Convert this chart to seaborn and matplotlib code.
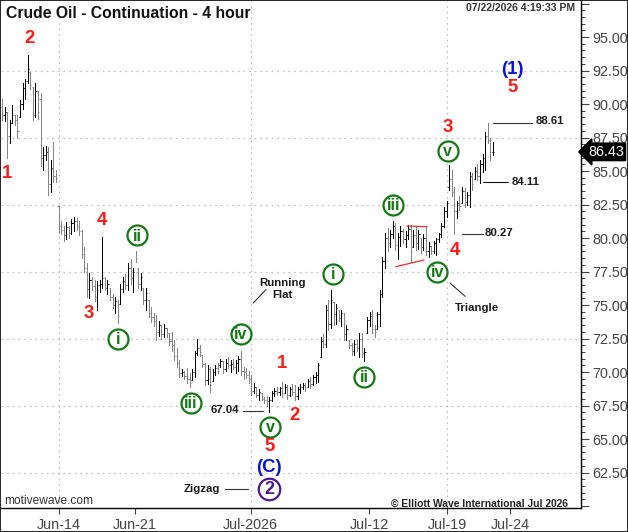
import numpy as np
import pandas as pd
import matplotlib
matplotlib.use("Agg")
import matplotlib.pyplot as plt
from matplotlib.ticker import FixedLocator, MultipleLocator, FuncFormatter
from matplotlib.transforms import blended_transform_factory
from matplotlib.patches import Rectangle
import seaborn as sns

# 4 hour bars
bar_open = [
    89.8, 89.2, 89.4, 87.6, 88.6, 89.2, 88.8, 89.0, 90.0, 91.2,
    91.7, 92.4, 91.3, 89.2, 90.8, 90.4, 86.0, 86.2, 86.4, 84.0,
    85.2, 84.6, 82.4, 80.9, 80.6, 80.2, 80.8, 80.4, 81.1, 81.3,
    80.9, 80.5, 78.8, 77.8, 76.2, 76.9, 76.4, 75.6, 76.5, 76.6,
    77.0, 76.3, 76.3, 75.6, 75.0, 75.3, 75.1, 76.2, 76.8, 76.5,
    77.8, 77.0, 78.6, 77.8, 76.6, 76.3, 75.4, 75.4, 74.4, 74.1,
    73.8, 73.0, 73.5, 72.8, 73.3, 72.9, 72.3, 72.0, 71.2, 70.7,
    69.9, 70.0, 69.7, 69.5, 69.4, 70.0, 71.4, 71.8, 71.3, 70.6,
    69.4, 70.2, 69.3, 70.0, 70.3, 70.5, 70.8, 70.2, 70.7, 70.5,
    70.6, 70.4, 70.7, 71.0, 70.1, 70.0, 69.8, 69.5, 68.6, 68.9,
    68.3, 68.4, 68.0, 67.9, 67.8, 67.9, 68.4, 68.6, 68.5, 68.8,
    68.4, 68.9, 68.3, 68.7, 68.5, 68.2, 68.7, 68.9, 69.0, 68.9,
    69.3, 69.1, 69.6, 69.8, 71.1, 72.3, 72.1, 74.6, 73.6, 75.2,
    74.3, 74.6, 74.0, 74.4, 72.8, 72.4, 72.0, 71.6, 72.1, 71.8,
    72.5, 71.4, 72.9, 73.9, 74.2, 73.2, 73.2, 74.3, 75.8, 78.3,
    80.0, 79.6, 80.3, 80.9, 79.5, 80.1, 80.5, 79.9, 80.2, 80.7,
    79.3, 80.2, 79.6, 80.0, 79.3, 80.0, 79.0, 79.4, 79.0, 79.6,
    79.9, 80.3, 80.9, 82.0, 83.8, 84.4, 83.4, 82.0, 82.6, 82.6,
    83.5, 82.7, 83.2, 84.6, 84.4, 85.0, 84.6, 85.5, 86.0, 87.6,
    87.3, 86.4,
]
bar_high = [
    90.4, 89.8, 89.4, 88.8, 89.9, 89.2, 89.2, 90.3, 91.6, 91.9,
    93.65, 92.4, 91.3, 91.6, 91.0, 90.8, 86.8, 86.9, 86.8, 85.8,
    87.2, 85.1, 82.4, 81.3, 80.9, 81.2, 80.9, 81.4, 81.6, 81.5,
    81.3, 80.6, 79.3, 78.1, 77.4, 77.1, 76.9, 76.8, 76.9, 80.1,
    77.1, 76.9, 76.3, 75.8, 75.6, 75.4, 76.6, 77.1, 77.3, 78.1,
    78.4, 77.8, 79.0, 77.8, 77.4, 76.3, 76.3, 75.4, 74.85, 74.4,
    74.25, 73.8, 73.5, 73.6, 73.3, 72.9, 73.0, 72.4, 71.8, 70.9,
    70.2, 70.1, 70.3, 69.9, 70.2, 71.6, 72.5, 72.0, 71.3, 70.7,
    70.5, 70.4, 70.2, 70.5, 70.7, 71.0, 70.8, 71.0, 71.1, 70.9,
    71.0, 70.9, 71.2, 71.6, 70.4, 70.3, 70.1, 69.8, 69.2, 68.9,
    68.7, 68.4, 68.1, 68.2, 68.1, 68.6, 68.8, 68.9, 68.9, 69.25,
    69.1, 69.0, 68.9, 69.1, 69.0, 68.9, 69.1, 69.2, 69.2, 69.5,
    69.6, 69.8, 70.0, 70.7, 72.6, 72.8, 75.0, 75.4, 76.1, 75.2,
    75.1, 74.6, 74.6, 74.4, 73.5, 72.4, 72.2, 72.4, 72.4, 72.9,
    72.9, 71.8, 74.1, 74.5, 74.6, 73.5, 74.5, 76.1, 78.6, 80.4,
    80.75, 80.6, 81.3, 81.1, 80.4, 80.9, 80.7, 80.5, 81.0, 81.0,
    80.6, 80.9, 80.6, 80.0, 80.3, 80.8, 79.7, 79.4, 79.8, 80.0,
    80.4, 81.1, 82.3, 82.8, 85.45, 85.1, 83.8, 82.8, 83.1, 83.8,
    83.7, 83.4, 84.9, 84.85, 85.3, 85.5, 85.8, 86.3, 87.9, 88.61,
    87.5, 87.2,
]
bar_low = [
    88.8, 88.7, 86.0, 87.1, 88.6, 88.4, 87.5, 89.0, 89.6, 90.4,
    91.6, 91.1, 88.8, 89.0, 88.9, 85.4, 85.1, 85.8, 83.2, 83.4,
    84.2, 84.2, 80.4, 80.3, 79.8, 79.9, 80.0, 80.3, 80.5, 80.6,
    80.2, 78.5, 77.5, 75.6, 75.5, 76.1, 75.3, 74.6, 76.0, 76.3,
    76.1, 75.8, 75.4, 74.8, 74.4, 73.65, 75.1, 76.0, 76.2, 76.1,
    76.6, 76.0, 78.2, 76.3, 76.1, 75.1, 74.6, 74.1, 73.7, 73.4,
    72.4, 72.7, 72.5, 72.6, 72.6, 72.0, 71.6, 70.9, 70.4, 69.6,
    69.7, 69.5, 69.2, 68.9, 69.4, 69.6, 71.3, 71.2, 70.4, 69.0,
    69.1, 68.5, 69.3, 69.8, 69.9, 70.4, 69.9, 70.1, 70.3, 70.0,
    70.2, 69.9, 70.1, 69.8, 69.5, 69.55, 69.2, 68.3, 68.4, 68.1,
    67.9, 67.9, 67.7, 67.5, 67.04, 67.8, 68.2, 68.3, 68.3, 68.1,
    68.4, 68.0, 68.2, 68.3, 67.9, 68.0, 68.4, 68.7, 68.6, 68.9,
    68.8, 69.0, 69.2, 69.25, 71.1, 71.9, 71.9, 73.1, 73.3, 73.5,
    73.6, 73.8, 73.4, 72.4, 72.4, 71.8, 71.3, 71.3, 71.6, 71.1,
    71.1, 70.85, 72.9, 73.4, 72.9, 72.6, 73.2, 73.4, 75.6, 77.8,
    79.0, 79.3, 80.0, 79.1, 78.4, 79.4, 79.6, 79.3, 79.9, 78.2,
    79.3, 79.1, 79.2, 78.9, 79.1, 78.7, 78.6, 78.8, 78.9, 78.7,
    79.7, 80.1, 80.8, 81.6, 83.6, 83.1, 80.27, 81.5, 82.1, 82.6,
    82.3, 82.5, 82.3, 83.6, 84.4, 84.3, 84.11, 84.9, 85.1, 87.1,
    85.8, 86.2,
]
bar_close = [
    89.2, 89.4, 87.6, 88.6, 89.2, 88.8, 88.0, 90.0, 91.2, 91.7,
    92.6, 91.4, 89.2, 91.0, 89.4, 86.0, 86.2, 86.4, 84.0, 85.2,
    84.6, 84.5, 80.9, 80.6, 80.2, 80.8, 80.4, 81.1, 81.3, 80.9,
    80.5, 78.8, 77.8, 76.2, 76.9, 76.4, 75.6, 76.5, 76.6, 77.0,
    76.3, 76.6, 75.6, 75.0, 75.3, 74.2, 76.2, 76.8, 76.5, 77.8,
    77.0, 77.5, 78.4, 76.6, 77.1, 75.4, 75.9, 74.4, 74.1, 73.8,
    73.0, 73.5, 72.8, 73.3, 72.9, 72.3, 72.0, 71.2, 70.7, 69.9,
    70.0, 69.7, 69.5, 69.2, 70.0, 71.4, 71.8, 71.5, 70.6, 69.4,
    70.2, 69.0, 70.0, 70.3, 70.1, 70.8, 70.2, 70.7, 70.5, 70.6,
    70.4, 70.7, 71.0, 70.1, 70.0, 69.8, 69.5, 68.6, 68.9, 68.3,
    68.5, 68.0, 67.9, 67.8, 67.9, 68.4, 68.6, 68.5, 68.8, 68.4,
    68.9, 68.3, 68.7, 68.5, 68.2, 68.7, 68.9, 69.0, 68.8, 69.3,
    69.1, 69.6, 69.8, 70.5, 72.3, 72.1, 74.6, 73.6, 75.4, 74.3,
    74.8, 74.0, 74.4, 72.8, 73.2, 72.0, 71.6, 72.1, 71.8, 72.5,
    71.4, 71.5, 73.9, 74.2, 73.2, 73.0, 74.3, 75.8, 78.3, 80.0,
    79.6, 80.3, 80.9, 79.5, 80.1, 80.5, 79.9, 80.2, 80.7, 79.0,
    80.2, 79.6, 80.3, 79.3, 80.0, 79.0, 79.4, 79.0, 79.6, 79.9,
    80.3, 80.9, 82.0, 82.6, 84.4, 83.4, 82.0, 82.6, 82.4, 83.5,
    82.7, 83.2, 84.6, 84.0, 85.0, 84.6, 85.5, 86.0, 87.6, 87.3,
    86.4, 86.43,
]

# date labels sit at bar positions (weekends are skipped)
date_ticks = [22.1, 51.6, 96.8, 142.8, 173.3, 197.7]
date_labels = ["Jun-14", "Jun-21", "Jul-2026", "Jul-12", "Jul-19", "Jul-24"]
last_price = 86.43

sns.set_theme(style="white")
plt.rcParams['font.family'] = ['Liberation Sans', 'DejaVu Sans']

df = pd.DataFrame({"open": bar_open, "high": bar_high,
                   "low": bar_low, "close": bar_close})
df["idx"] = np.arange(len(df))
bar_cols = np.where(df["close"] >= df["open"], "#000000", "#858585")

fig = plt.figure(figsize=(6.28, 5.32), dpi=100)
ax = fig.add_axes([0.0016, 0.0451, 0.9236, 0.9530])

# dotted grid
for yv in [62.5, 67.5, 72.5, 77.5, 82.5, 87.5, 92.5]:
    ax.axhline(yv, color="#c4c4c4", lw=0.9, ls=(0, (1.5, 3)), zorder=0)
for xv in [date_ticks[0], date_ticks[2], date_ticks[4]]:
    ax.axvline(xv, color="#c4c4c4", lw=0.9, ls=(0, (1.5, 3)), zorder=0)

# OHLC bars
ax.vlines(df["idx"], df["low"], df["high"], colors=bar_cols, lw=0.72,
          antialiased=False)
ax.hlines(df["open"], df["idx"] - 0.45, df["idx"], colors=bar_cols, lw=0.72)
ax.hlines(df["close"], df["idx"], df["idx"] + 0.45, colors=bar_cols, lw=0.72)

ax.set_xlim(-0.4, 225.3)
ax.set_ylim(59.85, 97.69)

# axes styling
for s in ["left", "top"]:
    ax.spines[s].set_visible(False)
for s in ["right", "bottom"]:
    ax.spines[s].set_color("black")
    ax.spines[s].set_linewidth(1.0)
ax.yaxis.tick_right()
ax.yaxis.set_major_locator(FixedLocator(np.arange(60, 97.6, 2.5)))
ax.yaxis.set_minor_locator(MultipleLocator(0.5))
ax.yaxis.set_major_formatter(FuncFormatter(
    lambda v, p: f"{v:.2f}" if 62 < v < 96 else ""))
ax.tick_params(axis="y", which="major", direction="out", length=6, width=0.8,
               color="#444444", labelsize=10.4, labelcolor="#444444", pad=2,
               right=True, left=False)
ax.tick_params(axis="y", which="minor", direction="out", length=3, width=0.7,
               color="#444444", right=True, left=False)
ax.set_xticks(date_ticks)
ax.set_xticklabels(date_labels)
ax.tick_params(axis="x", direction="out", length=4, width=0.8, color="#444444",
               labelsize=10.4, labelcolor="#444444", pad=3, bottom=True)
ax.grid(False)

# current price badge
tr = blended_transform_factory(ax.transAxes, ax.transData)
ax.text(1.012, last_price, f"{last_price:.2f}", transform=tr, ha="left",
        va="center", color="white", fontsize=10.4, clip_on=False,
        bbox=dict(boxstyle="larrow,pad=0.12", fc="black", ec="black"))

# wave labels
RED, BLUE, GREEN, PURPLE = "#ff1a1a", "#0a14e0", "#147814", "#4b1a8c"


def big(txt, x, y, color):
    ax.text(x, y, txt, color=color, fontsize=13.4, weight="bold",
            ha="center", va="center")


def circled(txt, x, y, color=GREEN, size=14.4, fs=11.5):
    ax.plot([x], [y], marker="o", ms=size, mfc="white", mec=color, mew=1.6)
    ax.text(x, y - 0.05, txt, color=color, fontsize=fs, weight="bold",
            ha="center", va="center")


def note(txt, x, y, ha="center"):
    ax.text(x, y, txt, color="#1a1a1a", fontsize=8.2, weight="bold",
            ha=ha, va="center", linespacing=1.25)


big("2", 10.6, 94.9, RED)
big("1", 2.1, 84.83, RED)
big("4", 38.8, 81.34, RED)
big("3", 33.6, 74.38, RED)
big("1", 108.8, 70.65, RED)
big("2", 114.0, 66.79, RED)
big("5", 104.0, 64.42, RED)
big("(C)", 104.0, 62.86, BLUE)
big("3", 173.4, 88.23, RED)
big("4", 176.3, 79.05, RED)
big("(1)", 198.7, 92.59, BLUE)
big("5", 198.7, 91.22, RED)

circled("i", 45.3, 72.46)
circled("ii", 52.7, 80.2)
circled("iii", 73.5, 67.71)
circled("iv", 92.9, 72.84)
circled("v", 104.3, 65.92)
circled("i", 128.7, 77.31)
circled("ii", 141.0, 69.65)
circled("iii", 152.3, 82.46)
circled("iv", 169.4, 77.49)
circled("v", 173.4, 86.49)
circled("2", 104.0, 61.25, color=PURPLE, size=15.5, fs=13)

# triangle boundaries
ax.plot([157.5, 165.5], [80.9, 80.84], color="#e83030", lw=0.9)
ax.plot([153.2, 164.2], [77.86, 78.36], color="#e83030", lw=0.9)

# notes with leader lines
note("Running\nFlat", 109.2, 76.23)
ax.plot([97.8, 102.7], [75.16, 76.15], color="#333333", lw=0.8)
note("67.04", 86.9, 67.16)
ax.plot([93.7, 101.4], [67.11, 67.11], color="#333333", lw=0.8)
note("Zigzag", 77.9, 61.25)
ax.plot([86.8, 95.8], [61.28, 61.28], color="#333333", lw=0.8)
note("Triangle", 184.7, 74.8)
ax.plot([174.3, 180.2], [76.64, 75.65], color="#333333", lw=0.8)
note("80.27", 193.5, 80.35)
ax.plot([179.1, 187.0], [80.3, 80.3], color="#333333", lw=0.8)
note("84.11", 203.9, 84.18)
ax.plot([187.3, 197.0], [84.18, 84.18], color="#111111", lw=0.8)
note("88.61", 213.2, 88.71)
ax.plot([190.9, 206.3], [88.61, 88.61], color="#333333", lw=0.8)

# header / footer text
fig.text(6 / 628, 1 - 14 / 532, "Crude Oil - Continuation - 4 hour",
         fontsize=11.3, weight="bold", ha="left", va="center", color="#111111")
fig.text(575 / 628, 1 - 8 / 532, "07/22/2026 4:19:33 PM", fontsize=7.5,
         weight="bold", ha="right", va="center", color="#333333")
fig.text(4 / 628, 1 - 501 / 532, "motivewave.com", fontsize=8.6,
         ha="left", va="center", color="#333333")
fig.text(568 / 628, 1 - 504 / 532, "\u00a9 Elliott Wave International Jul 2026",
         fontsize=7.4, weight="bold", ha="right", va="center", color="#222222")

fig.patches.append(Rectangle((0, 0), 1, 1, transform=fig.transFigure,
                             fill=False, ec="black", lw=1.2))

fig.savefig("out.png", dpi=100)
